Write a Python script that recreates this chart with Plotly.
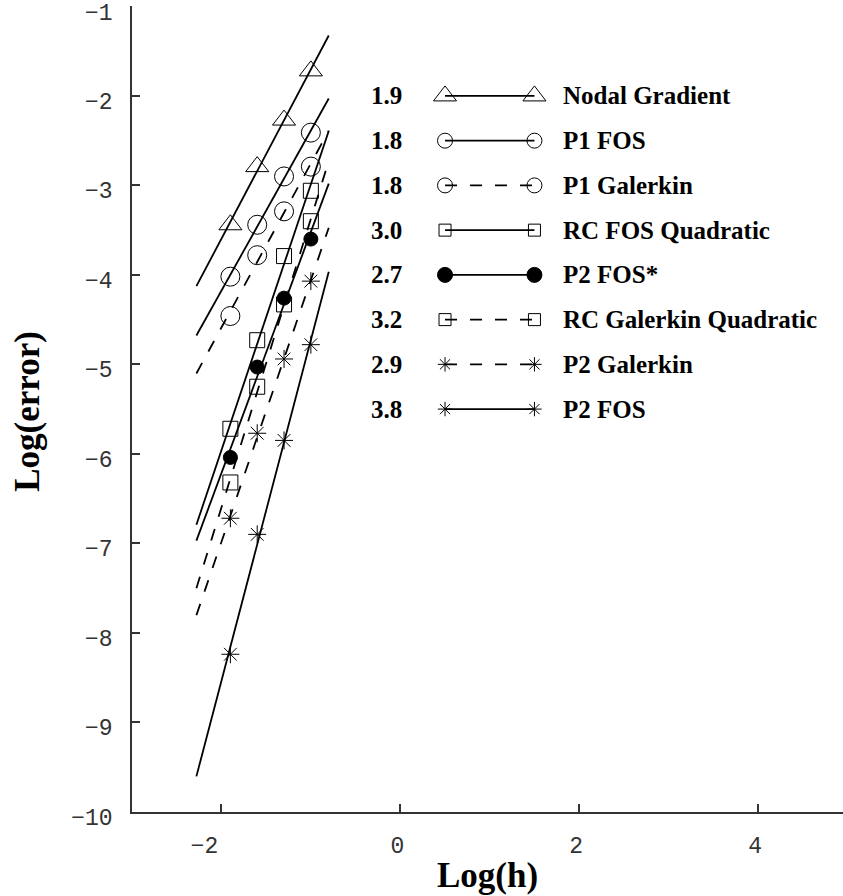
import numpy as np
import plotly.graph_objects as go

# ---------------- data ----------------
log_h = [-1.9, -1.6, -1.3, -1.0]

series_names = ["Nodal Gradient", "P1 FOS", "P1 Galerkin", "RC FOS Quadratic",
                "P2 FOS*", "RC Galerkin Quadratic", "P2 Galerkin", "P2 FOS"]
slope_labels = ["1.9", "1.8", "1.8", "3.0", "2.7", "3.2", "2.9", "3.8"]

nodal_gradient = [-3.44, -2.79, -2.27, -1.72]
p1_fos = [-4.02, -3.44, -2.90, -2.41]
p1_galerkin = [-4.46, -3.78, -3.29, -2.79]
rc_fos_quadratic = [-5.72, -4.73, -3.79, -3.06]
p2_fos_star = [-6.04, -5.03, -4.26, -3.60]
rc_galerkin_quadratic = [-6.32, -5.25, -4.33, -3.40]
p2_galerkin = [-6.72, -5.77, -4.94, -4.07]
p2_fos = [-8.24, -6.90, -5.85, -4.78]

fit_range = [-2.28, -0.80]

x_ticks = [-2, 0, 2, 4]
x_tick_labels = ["−2", "0", "2", "4"]
y_ticks = [-10, -9, -8, -7, -6, -5, -4, -3, -2, -1]

# ---------------- styles ----------------
series_values = [nodal_gradient, p1_fos, p1_galerkin, rc_fos_quadratic,
                 p2_fos_star, rc_galerkin_quadratic, p2_galerkin, p2_fos]
DASH = "12px,13px"
styles = [
    dict(symbol="triangle-up-open", size=20, lsize=20, dash="solid"),
    dict(symbol="circle-open", size=19, lsize=15, dash="solid"),
    dict(symbol="circle-open", size=19, lsize=15, dash=DASH),
    dict(symbol="square-open", size=15, lsize=12, dash="solid"),
    dict(symbol="circle", size=14, lsize=15, dash="solid"),
    dict(symbol="square-open", size=15, lsize=12, dash=DASH),
    dict(symbol="asterisk-open", size=15, lsize=12, dash=DASH),
    dict(symbol="asterisk-open", size=15, lsize=12, dash="solid"),
]

fig = go.Figure()
INK = "black"
LW = 1.8

# fit lines and markers
for vals, st in zip(series_values, styles):
    k, b = np.polyfit(log_h, vals, 1)
    xs = np.array(fit_range)
    fig.add_trace(go.Scatter(x=xs, y=k * xs + b, mode="lines",
                             line=dict(color=INK, width=LW, dash=st["dash"]),
                             showlegend=False, hoverinfo="skip"))
for vals, st in zip(series_values, styles):
    fig.add_trace(go.Scatter(x=log_h, y=vals, mode="markers",
                             marker=dict(symbol=st["symbol"], size=st["size"], color=INK,
                                         line=dict(color=INK, width=1)),
                             showlegend=False))

# custom legend (in data coordinates, like the original)
LEG_Y0, LEG_DY = -2.0, 0.5
LEG_X = [0.5, 1.5]
annotations = []
for i, (name, slope, st) in enumerate(zip(series_names, slope_labels, styles)):
    yy = LEG_Y0 - i * LEG_DY
    fig.add_trace(go.Scatter(x=LEG_X, y=[yy, yy], mode="lines+markers",
                             line=dict(color=INK, width=LW, dash=st["dash"]),
                             marker=dict(symbol=st["symbol"], size=st["lsize"], color=INK,
                                         line=dict(color=INK, width=1)),
                             showlegend=False, hoverinfo="skip"))
    annotations.append(dict(x=0.04, y=yy, xref="x", yref="y", text=slope, showarrow=False,
                            xanchor="right", yanchor="middle",
                            font=dict(family="Liberation Serif", size=25, color=INK, weight="bold")))
    annotations.append(dict(x=1.8, y=yy, xref="x", yref="y", text=name, showarrow=False,
                            xanchor="left", yanchor="middle",
                            font=dict(family="Liberation Serif", size=25, color=INK, weight="bold")))

# axis titles
annotations.append(dict(x=0.5, y=-0.052, xref="paper", yref="paper", text="Log(h)",
                        showarrow=False, xanchor="center", yanchor="top",
                        font=dict(family="Liberation Serif", size=35, color=INK, weight="bold")))
annotations.append(dict(x=-0.148, y=0.4975, xref="paper", yref="paper", text="Log(error)",
                        showarrow=False, xanchor="center", yanchor="middle", textangle=-90,
                        font=dict(family="Liberation Serif", size=35, color=INK, weight="bold")))

tick_font = dict(family="Liberation Mono, monospace", size=23, color="#333")
axis_common = dict(showgrid=False, zeroline=False, showline=True, linecolor="#333", linewidth=1.5,
                   ticks="inside", ticklen=8, tickwidth=1.5, tickcolor="#333",
                   tickfont=tick_font, mirror=False, ticklabeloverflow="allow",
                   automargin=False)

# negative x labels sit left of their tick in the original
x_text = [t + "\u00a0\u00a0" if t.startswith("−") else t for t in x_tick_labels]

fig.update_layout(
    width=843, height=896,
    margin=dict(l=132, r=0, t=6, b=84, autoexpand=False),
    paper_bgcolor="white", plot_bgcolor="white",
    xaxis=dict(range=[-3, 4.95], tickvals=x_ticks, ticktext=x_text,
               ticklabelstandoff=12, ticklabelshift=-3, **axis_common),
    yaxis=dict(range=[-10.003, -0.995], tickvals=y_ticks, ticklabelstandoff=13, ticklabelshift=5,
               **axis_common),
    annotations=annotations,
    showlegend=False,
)

fig.write_html("out.html", config={"displayModeBar": False},
               post_script="document.body.style.margin='0';document.body.style.overflow='hidden';")
